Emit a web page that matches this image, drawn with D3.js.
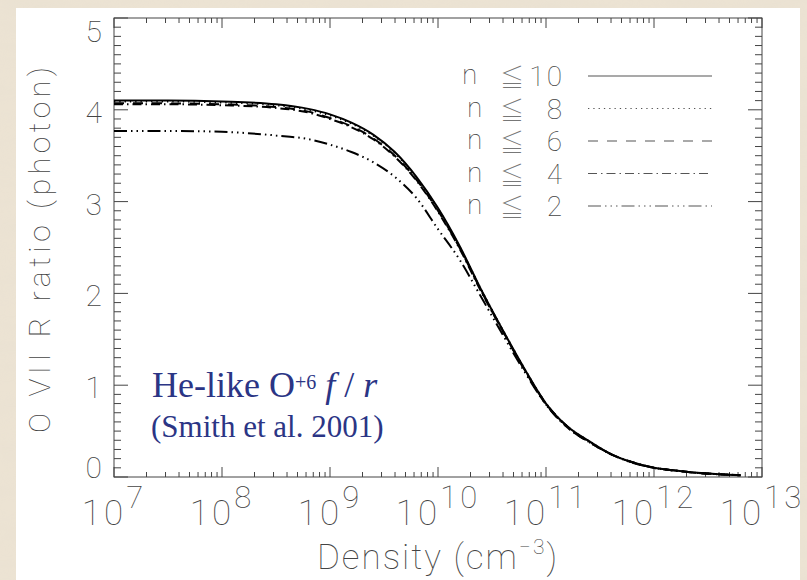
<!DOCTYPE html>
<html>
<head>
<meta charset="utf-8">
<script src="https://cdn.jsdelivr.net/npm/d3@7"></script>
<style>
  html, body { margin: 0; padding: 0; background: #ece3d3; }
  svg { display: block; }
  .lbl { font-family: Roboto, "DejaVu Sans", sans-serif; font-weight: 100; fill: #444; }
  .sym { font-family: "Noto Sans CJK JP", "DejaVu Sans", sans-serif; font-weight: 100; fill: #777; }
</style>
</head>
<body>
<div id="chart"></div>
<script>
// density grid (cm^-3) and R ratio
const density = [1e7, 3.16e7, 1e8, 3.16e8, 6.31e8, 1e9, 1.58e9, 2.51e9, 3.98e9, 6.31e9,
                 1e10, 1.58e10, 2.51e10, 3.98e10, 6.31e10, 1e11, 1.58e11, 2.51e11, 3.98e11, 6.31e11,
                 1e12, 1.58e12, 2.51e12, 3.98e12, 6.31e12];
const rN10 = [4.10, 4.10, 4.09, 4.06, 4.01, 3.95, 3.86, 3.73, 3.54, 3.27, 2.93, 2.52, 2.04, 1.60, 1.18, 0.80, 0.55, 0.39, 0.25, 0.16, 0.10, 0.07, 0.045, 0.03, 0.02];
const rN8  = [4.09, 4.09, 4.08, 4.05, 4.00, 3.94, 3.85, 3.72, 3.53, 3.26, 2.92, 2.51, 2.04, 1.60, 1.18, 0.80, 0.55, 0.39, 0.25, 0.16, 0.10, 0.07, 0.045, 0.03, 0.02];
const rN6  = [4.07, 4.07, 4.06, 4.03, 3.98, 3.91, 3.82, 3.69, 3.50, 3.24, 2.90, 2.50, 2.03, 1.59, 1.17, 0.80, 0.55, 0.38, 0.25, 0.16, 0.10, 0.07, 0.045, 0.03, 0.02];
const rN4  = [4.06, 4.06, 4.05, 4.02, 3.97, 3.90, 3.81, 3.68, 3.49, 3.23, 2.89, 2.49, 2.02, 1.59, 1.17, 0.79, 0.54, 0.38, 0.25, 0.16, 0.10, 0.07, 0.045, 0.03, 0.02];
const rN2  = [3.77, 3.77, 3.76, 3.72, 3.68, 3.62, 3.54, 3.43, 3.27, 3.04, 2.70, 2.37, 1.96, 1.55, 1.15, 0.79, 0.54, 0.38, 0.25, 0.155, 0.10, 0.07, 0.045, 0.03, 0.02];

const seriesNames = ['10', '8', '6', '4', '2'];
const seriesValues = [rN10, rN8, rN6, rN4, rN2];
const dashes = [null, '1.3,4', '10,9', '9,4,1.5,4', '13,4,1.5,4,1.5,4,1.5,4'];

const xTickExps = [7, 8, 9, 10, 11, 12, 13];
const yTicks = [0, 1, 2, 3, 4, 5];

const W = 807, H = 580;
const margin = {top: 18, right: 45, bottom: 103, left: 114};

const svg = d3.select('#chart').append('svg')
    .attr('width', W)
    .attr('height', H);

// faint marble streaks behind the slide
const defs = svg.append('defs');
const f = defs.append('filter').attr('id', 'marble');
f.append('feTurbulence').attr('type', 'fractalNoise').attr('baseFrequency', '0.012 0.05').attr('numOctaves', 3).attr('seed', 4);
f.append('feColorMatrix').attr('type', 'matrix')
    .attr('values', '0 0 0 0 0.80  0 0 0 0 0.74  0 0 0 0 0.64  0 0 0 -1.4 0.95');
svg.append('rect').attr('width', W).attr('height', H).attr('filter', 'url(#marble)').attr('opacity', 0.5);

// white slide panel
svg.append('rect')
    .attr('x', 16).attr('y', 8)
    .attr('width', 784).attr('height', H - 8)
    .attr('fill', '#fff');

const x = d3.scaleLog()
    .domain([1e7, 1e13])
    .range([margin.left, W - margin.right]);

const y = d3.scaleLinear()
    .domain([0, 5])
    .range([H - margin.bottom, margin.top]);

const x0 = x.range()[0], x1 = x.range()[1];
const y0 = y.range()[0], y1 = y.range()[1];

// ticks: major + minor, drawn inward on all four sides
const xMinor = [];
for (let e = 7; e < 13; e++) for (let m = 2; m <= 9; m++) xMinor.push(m * Math.pow(10, e));
const xMajor = xTickExps.map(e => Math.pow(10, e));
const yMinor = d3.range(0, 5.001, 0.1).filter(v => Math.abs(v - Math.round(v)) > 1e-6);

const tickG = svg.append('g').attr('stroke', '#444').attr('stroke-width', 1);

function vTicks(vals, len) {
    vals.forEach(v => {
        tickG.append('line').attr('x1', x(v)).attr('x2', x(v)).attr('y1', y0).attr('y2', y0 - len);
        tickG.append('line').attr('x1', x(v)).attr('x2', x(v)).attr('y1', y1).attr('y2', y1 + len);
    });
}
function hTicks(vals, len) {
    vals.forEach(v => {
        tickG.append('line').attr('y1', y(v)).attr('y2', y(v)).attr('x1', x0).attr('x2', x0 + len);
        tickG.append('line').attr('y1', y(v)).attr('y2', y(v)).attr('x1', x1).attr('x2', x1 - len);
    });
}
vTicks(xMajor, 10);
vTicks(xMinor, 5);
hTicks(yTicks, 14);
hTicks(yMinor, 7);

svg.append('rect')
    .attr('x', x0).attr('y', y1)
    .attr('width', x1 - x0).attr('height', y0 - y1)
    .attr('fill', 'none')
    .attr('stroke', '#444')
    .attr('stroke-width', 1);

// y tick labels
svg.selectAll('.ylab')
    .data(yTicks)
    .enter().append('text')
    .attr('class', 'lbl ylab')
    .attr('x', x0 - 12)
    .attr('y', d => y(d) + (d === 5 ? 24 : d === 0 ? 1 : 13))
    .attr('text-anchor', 'end')
    .style('font-size', '30px')
    .text(d => d);

// x tick labels 10^n
const xl = svg.selectAll('.xlab')
    .data(xTickExps)
    .enter().append('text')
    .attr('class', 'lbl xlab')
    .attr('x', d => x(Math.pow(10, d)))
    .attr('y', 525)
    .attr('text-anchor', 'middle')
    .style('font-size', '35px');
xl.append('tspan').style('letter-spacing', '3px').text('10');
xl.append('tspan').attr('dy', -17).style('font-size', '31px').style('letter-spacing', '3px').text(d => d);

// axis titles
const xt = svg.append('text')
    .attr('class', 'lbl')
    .attr('x', (x0 + x1) / 2)
    .attr('y', 569)
    .attr('text-anchor', 'middle')
    .style('font-size', '35px')
    .style('letter-spacing', '2px');
xt.append('tspan').text('Density (cm');
xt.append('tspan').attr('dy', -15).style('font-size', '21px').text('\u22123');
xt.append('tspan').attr('dy', 15).text(')');

svg.append('text')
    .attr('class', 'lbl')
    .attr('transform', 'translate(50,250) rotate(-90)')
    .attr('text-anchor', 'middle')
    .attr('textLength', 366)
    .attr('lengthAdjust', 'spacing')
    .style('font-size', '30px')
    .text('O VII R ratio (photon)');

// curves
const line = d3.line()
    .x((d, i) => x(density[i]))
    .y(d => y(d))
    .curve(d3.curveMonotoneX);

svg.append('g')
    .selectAll('path')
    .data(seriesValues)
    .enter().append('path')
    .attr('d', d => line(d))
    .attr('fill', 'none')
    .attr('stroke', '#000')
    .attr('stroke-width', 2)
    .attr('stroke-dasharray', (d, i) => dashes[i]);

// legend
const legRowY = d3.scalePoint().domain(seriesNames).range([76, 206]);
const leg = svg.append('g');
seriesNames.forEach((n, i) => {
    const ly = legRowY(n);
    leg.append('text').attr('class', 'lbl')
        .attr('x', i === 0 ? 462 : 467).attr('y', ly + 8)
        .style('font-size', '28px').text('n');
    leg.append('text').attr('class', 'sym')
        .attr('x', 500).attr('y', ly + 10)
        .style('font-size', '24px').text('\u2266');
    leg.append('text').attr('class', 'lbl')
        .attr('x', 564).attr('y', ly + 10)
        .attr('text-anchor', 'end')
        .style('font-size', '28px')
        .style('letter-spacing', '2px')
        .text(n);
    leg.append('line')
        .attr('x1', 588).attr('x2', 712)
        .attr('y1', ly).attr('y2', ly)
        .attr('stroke', '#555')
        .attr('stroke-width', 1.2)
        .attr('stroke-dasharray', dashes[i]);
});

// annotation
const ann = svg.append('g')
    .style('font-family', '"Liberation Serif", "Times New Roman", serif')
    .attr('fill', '#2b3585');
const a1 = ann.append('text').attr('x', 152).attr('y', 397).style('font-size', '36px');
a1.append('tspan').text('He-like O');
a1.append('tspan').attr('dy', -8).style('font-size', '20px').text('+6');
a1.append('tspan').attr('dy', 8).text(' ');
a1.append('tspan').style('font-style', 'italic').text('f');
a1.append('tspan').text(' / ');
a1.append('tspan').style('font-style', 'italic').text('r');
ann.append('text').attr('x', 151).attr('y', 437).style('font-size', '31px')
    .text('(Smith et al. 2001)');
</script>
</body>
</html>
